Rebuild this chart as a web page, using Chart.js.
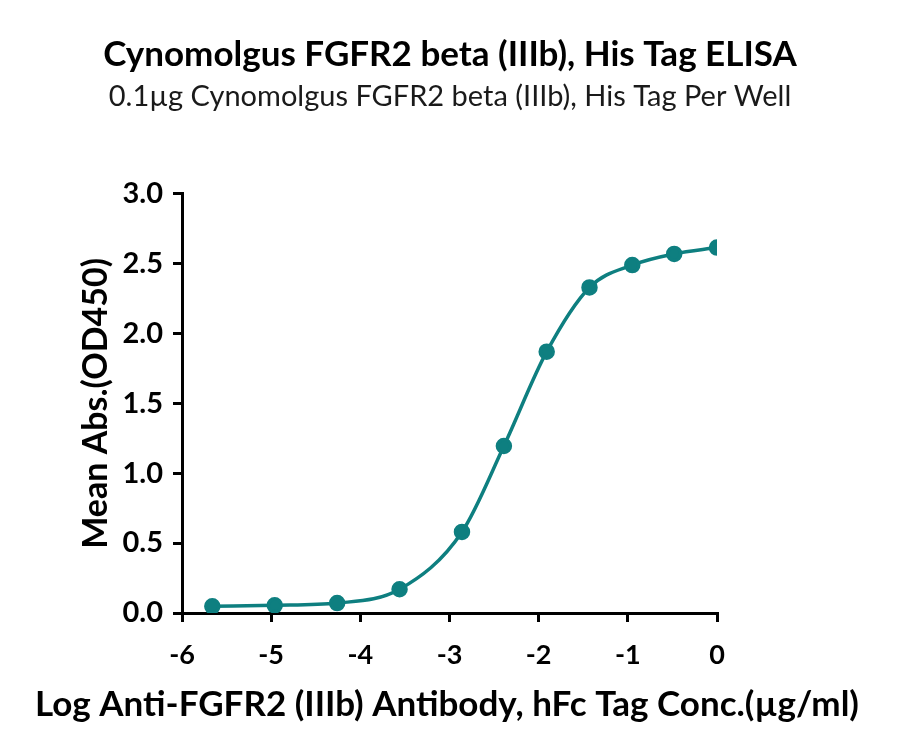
<!DOCTYPE html>
<html>
<head>
<meta charset="utf-8">
<script src="https://cdn.jsdelivr.net/npm/chart.js@4.4.0/dist/chart.umd.min.js"></script>
<style>
  html, body { margin: 0; padding: 0; background: #fff; }
  #wrap { width: 900px; height: 754px; }
</style>
</head>
<body>
<div id="wrap"><canvas id="myChart" width="900" height="754"></canvas></div>
<script>
'use strict';

// log concentration (ug/ml) and mean OD450
const logConc = [-5.66, -4.96, -4.26, -3.56, -2.86, -2.39, -1.91, -1.43, -0.95, -0.48, 0.0];
const meanAbs = [0.048, 0.055, 0.071, 0.17, 0.58, 1.195, 1.87, 2.33, 2.49, 2.57, 2.615];
const xTicks = [-6, -5, -4, -3, -2, -1, 0];
const yTicks = [0, 0.5, 1.0, 1.5, 2.0, 2.5, 3.0];

const titleText = 'Cynomolgus FGFR2 beta (IIIb), His Tag ELISA';
const subtitleText = '0.1\u00b5g Cynomolgus FGFR2 beta (IIIb), His Tag Per Well';
const xTitle = 'Log Anti-FGFR2 (IIIb) Antibody, hFc Tag Conc.(\u00b5g/ml)';
const yTitle = 'Mean Abs.(OD450)';

const teal = '#0e7f80';
const fontFamily = 'Lato, "Noto Sans", sans-serif';

const points = logConc.map((x, i) => ({ x: x, y: meanAbs[i] }));

// the x axis title is wider than the plot, so Chart.js would squeeze it; draw it here instead
const wideXTitle = {
  id: 'wideXTitle',
  afterDraw: chart => {
    const c = chart.ctx;
    c.save();
    c.font = 'bold 35px ' + fontFamily;
    c.fillStyle = '#000';
    c.textAlign = 'center';
    c.textBaseline = 'alphabetic';
    c.fillText(xTitle, 447, 716, 834);
    c.restore();
  }
};

const ctx = document.getElementById('myChart').getContext('2d');

let chart = new Chart(ctx, {
  type: 'scatter',
  data: {
    datasets: [{
      data: points,
      showLine: true,
      borderColor: teal,
      backgroundColor: teal,
      borderWidth: 3.5,
      pointRadius: 6.5,
      pointHoverRadius: 6.5,
      cubicInterpolationMode: 'monotone'
    }]
  },
  plugins: [wideXTitle],
  options: {
    responsive: false,
    animation: false,
    layout: { padding: 0 },
    plugins: {
      legend: { display: false },
      tooltip: { enabled: false },
      title: {
        display: true,
        text: titleText,
        color: '#000',
        font: { family: fontFamily, size: 35, weight: 'bold', lineHeight: 1.2 },
        padding: { top: 34, bottom: 3 }
      },
      subtitle: {
        display: true,
        text: subtitleText,
        color: '#1a1a1a',
        font: { family: fontFamily, size: 29, weight: 'normal', lineHeight: 1.2 },
        padding: { top: 0, bottom: 80 }
      }
    },
    scales: {
      x: {
        type: 'linear',
        min: -6,
        max: 0,
        afterBuildTicks: scale => { scale.ticks = xTicks.map(v => ({ value: v })); },
        afterFit: scale => { scale.height = 141; },
        border: { color: '#000', width: 3 },
        grid: { drawOnChartArea: false, color: '#000', lineWidth: 3, tickLength: 9 },
        ticks: {
          color: '#000',
          padding: 17,
          font: { family: fontFamily, size: 27, weight: 'bold' },
          callback: v => String(v)
        },
        title: { display: false }
      },
      y: {
        type: 'linear',
        min: 0,
        max: 3,
        afterBuildTicks: scale => { scale.ticks = yTicks.map(v => ({ value: v })); },
        afterFit: scale => { scale.width = 182; },
        border: { color: '#000', width: 3 },
        grid: { drawOnChartArea: false, color: '#000', lineWidth: 3, tickLength: 9 },
        ticks: {
          color: '#000',
          padding: 10,
          font: { family: fontFamily, size: 29, weight: 'bold' },
          callback: v => v.toFixed(1)
        },
        title: {
          display: true,
          text: yTitle,
          color: '#000',
          font: { family: fontFamily, size: 34, weight: 'bold', lineHeight: 1.2 },
          padding: { top: 76, bottom: 0 }
        }
      },
      // empty right axis only reserves the margin right of the plot
      yRight: {
        type: 'linear',
        position: 'right',
        min: 0,
        max: 3,
        afterFit: scale => { scale.width = 183; },
        border: { display: false },
        grid: { display: false },
        ticks: { display: false }
      }
    }
  }
});
</script>
</body>
</html>
